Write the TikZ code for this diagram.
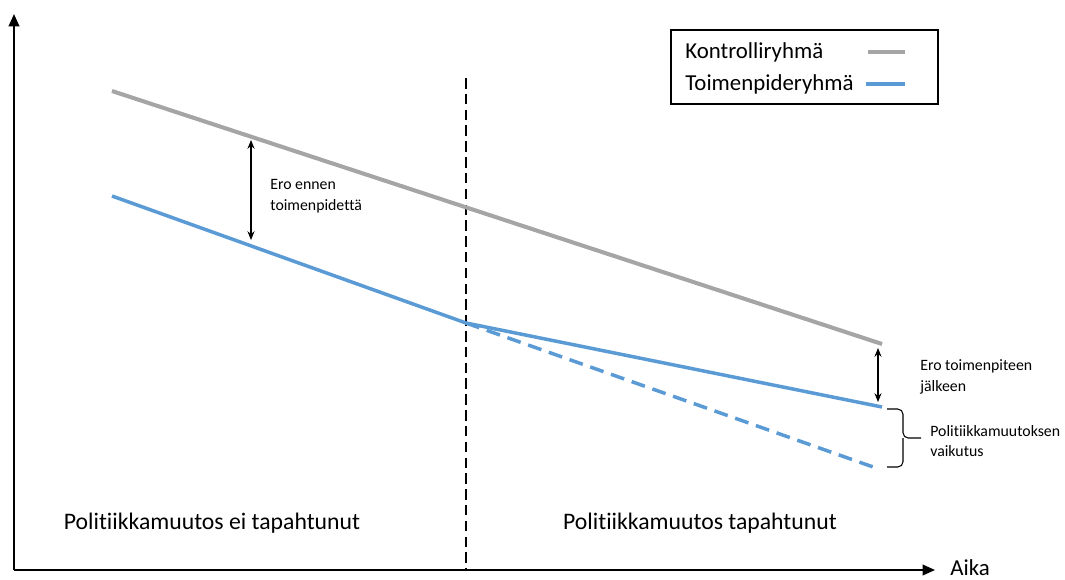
\documentclass[tikz,border=0pt]{standalone}
\usepackage{fontspec}
\setmainfont{Carlito}[Ligatures=NoCommon]
\usepackage{tikz}
\usetikzlibrary{arrows.meta}

\definecolor{ctrlgray}{RGB}{165,165,165}
\definecolor{treatblue}{RGB}{91,155,213}

\begin{document}
\begin{tikzpicture}[x=0.02cm, y=-0.02cm,
        axis/.style={line width=1.1pt, -{Triangle[length=7pt,width=6pt]}},
        ctrl/.style={line width=2.3pt, ctrlgray},
        treat/.style={line width=2pt, treatblue},
        gap/.style={line width=0.6pt, {Stealth[length=5pt,width=4pt]}-{Stealth[length=5pt,width=4pt]}},
        brk/.style={line width=0.6pt, rounded corners=3pt},
        small/.style={font=\fontsize{9}{11.8}\selectfont, align=left, anchor=west, inner sep=0pt},
        big/.style={font=\fontsize{13.5}{16}\selectfont, inner sep=0pt}]
        \useasboundingbox (0,0) rectangle (1065,579);

        % Points
        \coordinate (o)  at (14,570);
        \coordinate (yt) at (14,14);
        \coordinate (xt) at (935,570);
        \coordinate (g0) at (112,91);
        \coordinate (g1) at (882,344);
        \coordinate (b0) at (112,196);
        \coordinate (bk) at (466,323);
        \coordinate (b1) at (882,407);
        \coordinate (d1) at (876,468);
        \coordinate (vt) at (466,78);
        \coordinate (vb) at (466,570);

        % Nodes
        \draw (970,568) node(aika) [big, font=\fontsize{13}{15}\selectfont] {Aika};
        \draw (212,523) node(pre) [big] {Politiikkamuutos ei tapahtunut};
        \draw (700,523) node(post) [big] {Politiikkamuutos tapahtunut};
        \draw (270,196) node(ero1) [small] {Ero ennen\\toimenpidettä};
        \draw (920,377) node(ero2) [small] {Ero toimenpiteen\\jälkeen};
        \draw (930,441) node(vaik) [small] {Politiikkamuutoksen\\vaikutus};

        % Legend
        \draw[line width=0.9pt] (671,30) rectangle (938,104);
        \draw (685,52) node(kon) [big, anchor=west, font=\fontsize{13}{15}\selectfont] {Kontrolliryhmä};
        \draw (685,84) node(toi) [big, anchor=west, font=\fontsize{13}{15}\selectfont] {Toimenpideryhmä};
        \draw[ctrl] (868,52) -- (905,52);
        \draw[treat] (866,84) -- (905,84);

        % Axes
        \draw[axis] (o) -- (yt);
        \draw[axis] (o) -- (xt);
        \draw[line width=1.7pt, dash pattern=on 6pt off 3pt] (vt) -- (vb);

        % Lines
        \draw[ctrl] (g0) -- (g1);
        \draw[treat] (b0) -- (bk) -- (b1);
        \draw[treat, dash pattern=on 8pt off 4.5pt] (bk) -- (d1);

        % Gaps
        \draw[gap] (251,140) -- (251,240);
        \draw[gap] (878,348) -- (878,402);
        \draw[brk] (887,409) -- (903,409) -- (903,438) -- (921,438);
        \draw[brk] (887,467) -- (903,467) -- (903,438);
\end{tikzpicture}
\end{document}
